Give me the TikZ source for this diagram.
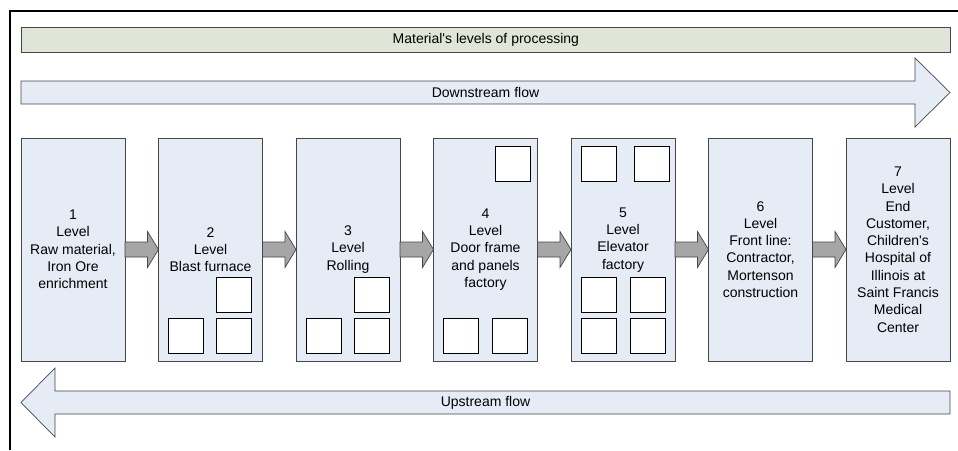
\documentclass[tikz,border=0pt]{standalone}
\usepackage{fontspec}
\setmainfont{Liberation Sans}
\usetikzlibrary{positioning,calc}
\definecolor{boxblue}{RGB}{230,236,246}
\definecolor{bargreen}{RGB}{223,230,215}
\definecolor{edgegray}{RGB}{70,70,70}
\definecolor{arrowgray}{RGB}{166,166,166}
\tikzset{
  levelbox/.style={draw=edgegray, fill=boxblue, line width=0.7pt, minimum width=104pt, minimum height=223pt,
    inner sep=0pt, outer sep=0pt, align=center, font=\fontsize{14}{17.3}\selectfont},
  part/.style={draw=black, fill=white, line width=1pt, minimum size=35pt, inner sep=0pt, outer sep=0pt},
  flowshape/.style={draw=edgegray, fill=boxblue, line width=0.7pt},
  blockarrow/.style={draw=edgegray, fill=arrowgray, line width=0.7pt},
  bartext/.style={font=\fontsize{14}{17}\selectfont}
}
\newcommand{\levelarrow}[2]{%
  \draw[blockarrow] ($(#1.east)+(0,-7.5)$) -- ($(#2.west)+(-11,-7.5)$) -- ($(#2.west)+(-11,-18)$)
    -- (#2.west) -- ($(#2.west)+(-11,18)$) -- ($(#2.west)+(-11,7.5)$) -- ($(#1.east)+(0,7.5)$) -- cycle;}
\begin{document}
\begin{tikzpicture}[x=1pt, y=-1pt]
        \useasboundingbox (0,0) rectangle (958,450);
        \draw[line width=2pt] (10,450) -- (10,11) -- (958,11);
        \node [draw=edgegray, fill=bargreen, line width=0.7pt, minimum width=929pt, minimum height=25pt, inner sep=0pt,
          anchor=north west, bartext] (levels) at (21,27) {Material\textquotesingle s levels of processing};
        \draw[flowshape] (21,81) -- (915,81) -- (915,58) -- (950,92.5) -- (915,127) -- (915,104) -- (21,104) -- cycle;
        \node [bartext] (downstream) at (485.5,92.5) {Downstream flow};
        \draw[flowshape] (950,391) -- (55,391) -- (55,368) -- (21,402.5) -- (55,437) -- (55,414) -- (950,414) -- cycle;
        \node [bartext] (upstream) at (485.5,402.5) {Upstream flow};
        \node [levelbox, anchor=north west] (l1) at (21,138) {1\\Level\\Raw material,\\Iron Ore\\enrichment};
        \node [levelbox, right=33.5pt of l1] (l2) {2\\Level\\Blast furnace};
        \node [levelbox, right=33.5pt of l2] (l3) {3\\Level\\Rolling};
        \node [levelbox, right=33.5pt of l3] (l4) {4\\Level\\Door frame\\and panels\\factory};
        \node [levelbox, right=33.5pt of l4] (l5) {5\\Level\\Elevator\\factory\\\strut};
        \node [levelbox, right=33.5pt of l5] (l6) {6\\Level\\Front line:\\Contractor,\\Mortenson\\construction};
        \node [levelbox, right=33.5pt of l6] (l7) {7\\Level\\End\\Customer,\\Children\textquotesingle s\\Hospital of\\Illinois at\\Saint Francis\\Medical\\Center};
        \node [part, above right=8pt and 10pt of l2.south west] (p2a) {};
        \node [part, above left=8pt and 11pt of l2.south east] (p2b) {};
        \node [part, above=6pt of p2b] (p2c) {};
        \node [part, above right=8pt and 10pt of l3.south west] (p3a) {};
        \node [part, above left=8pt and 11pt of l3.south east] (p3b) {};
        \node [part, above=6pt of p3b] (p3c) {};
        \node [part, below left=8pt and 7pt of l4.north east] (p4a) {};
        \node [part, above right=8pt and 10pt of l4.south west] (p4b) {};
        \node [part, above left=8pt and 10pt of l4.south east] (p4c) {};
        \node [part, below right=8pt and 10pt of l5.north west] (p5a) {};
        \node [part, below left=8pt and 6pt of l5.north east] (p5b) {};
        \node [part, above right=8pt and 10pt of l5.south west] (p5c) {};
        \node [part, right=14pt of p5c] (p5d) {};
        \node [part, above=6pt of p5c] (p5e) {};
        \node [part, above=6pt of p5d] (p5f) {};
        \levelarrow{l1}{l2}
        \levelarrow{l2}{l3}
        \levelarrow{l3}{l4}
        \levelarrow{l4}{l5}
        \levelarrow{l5}{l6}
        \levelarrow{l6}{l7}
    \end{tikzpicture}
\end{document}
